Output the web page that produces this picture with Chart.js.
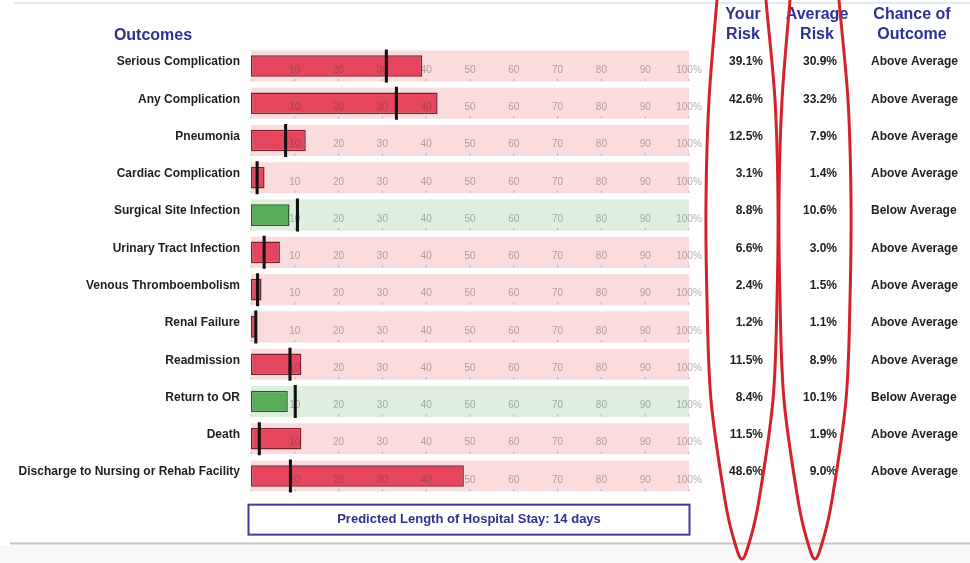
<!DOCTYPE html>
<html>
<head>
<meta charset="utf-8">
<title>Outcomes – Your Risk vs Average Risk</title>
<script src="https://cdn.jsdelivr.net/npm/chart.js@4.4.1/dist/chart.umd.min.js"></script>
<style>
  html, body { margin: 0; padding: 0; background: #ffffff; }
  #wrap { position: relative; width: 970px; height: 563px; }
  canvas { display: block; }
</style>
</head>
<body>
<div id="wrap"><canvas id="chart" width="970" height="563"></canvas></div>
<script>
// ---- data ----
const categories = [
  'Serious Complication',
  'Any Complication',
  'Pneumonia',
  'Cardiac Complication',
  'Surgical Site Infection',
  'Urinary Tract Infection',
  'Venous Thromboembolism',
  'Renal Failure',
  'Readmission',
  'Return to OR',
  'Death',
  'Discharge to Nursing or Rehab Facility'
];
const yourRisk    = [39.1, 42.6, 12.5, 3.1, 8.8, 6.6, 2.4, 1.2, 11.5, 8.4, 11.5, 48.6];
const averageRisk = [30.9, 33.2, 7.9, 1.4, 10.6, 3.0, 1.5, 1.1, 8.9, 10.1, 1.9, 9.0];
const chanceOfOutcome = [
  'Above Average', 'Above Average', 'Above Average', 'Above Average',
  'Below Average', 'Above Average', 'Above Average', 'Above Average',
  'Above Average', 'Below Average', 'Above Average', 'Above Average'
];
const scaleTicks = [0, 10, 20, 30, 40, 50, 60, 70, 80, 90, 100];
const scaleTickLabels = ['', '10', '20', '30', '40', '50', '60', '70', '80', '90', '100%'];
const lengthOfStayDays = 14;

// ---- styling ----
const FONT = '"Liberation Sans", Arial, Helvetica, sans-serif';
const NAVY = '#2e3192';
const isBelow = (i) => chanceOfOutcome[i] === 'Below Average';
const bandColors = categories.map((_, i) => isBelow(i) ? '#def0dd' : '#fadcdd');
const barFill    = categories.map((_, i) => isBelow(i) ? '#58ae58' : '#e5465e');
const barBorder  = categories.map((_, i) => isBelow(i) ? '#2d5a2d' : '#7c1f2c');
const markerHalfWidth = 0.35; // in percentage units, gives a ~3px tick

// column anchors for the table on the right
const COL_YOUR_RIGHT = 763;
const COL_AVG_RIGHT = 837;
const COL_CHANCE_LEFT = 871;
const YOUR_CENTER = 742;
const AVG_CENTER = 815;

// hand-drawn highlight loop (offsets from column centre)
const loopShape = [
  [0, -110], [21, -50], [24, 0], [33, 100], [36, 200], [35, 300], [31, 400],
  [17, 500], [8, 540], [0, 559], [-8, 540], [-17, 500], [-31, 400],
  [-35, 300], [-36, 200], [-33, 100], [-25, 0], [-21, -50]
];

function drawLoop(ctx, cx) {
  const p = loopShape.map(([dx, y]) => [cx + dx, y]);
  const n = p.length;
  ctx.beginPath();
  ctx.moveTo(p[0][0], p[0][1]);
  for (let i = 0; i < n; i++) {
    const p0 = p[(i - 1 + n) % n], p1 = p[i], p2 = p[(i + 1) % n], p3 = p[(i + 2) % n];
    const c1x = p1[0] + (p2[0] - p0[0]) / 6, c1y = p1[1] + (p2[1] - p0[1]) / 6;
    const c2x = p2[0] - (p3[0] - p1[0]) / 6, c2y = p2[1] - (p3[1] - p1[1]) / 6;
    ctx.bezierCurveTo(c1x, c1y, c2x, c2y, p2[0], p2[1]);
  }
  ctx.closePath();
  ctx.strokeStyle = '#d3222b';
  ctx.lineWidth = 3;
  ctx.stroke();
}

const pagePlugin = {
  id: 'pageDecor',
  beforeDraw(chart) {
    const ctx = chart.ctx;
    ctx.save();
    ctx.fillStyle = '#ffffff';
    ctx.fillRect(0, 0, chart.width, chart.height);
    // faint page rule at the top
    ctx.strokeStyle = '#e3e9f4';
    ctx.lineWidth = 2;
    ctx.beginPath(); ctx.moveTo(14, 3); ctx.lineTo(chart.width, 3); ctx.stroke();
    // footer rule and strip
    ctx.fillStyle = '#f8f8f8';
    ctx.fillRect(0, 545, chart.width, chart.height - 545);
    ctx.strokeStyle = '#c6c6c6';
    ctx.beginPath(); ctx.moveTo(10, 543.5); ctx.lineTo(chart.width, 543.5); ctx.stroke();
    ctx.restore();
  },
  afterDatasetDraw(chart, args) {
    // percentage scale repeated inside every row, over the risk bar
    if (args.index !== 1) return;
    const ctx = chart.ctx;
    const xs = chart.scales.x, ys = chart.scales.y;
    ctx.save();
    ctx.font = '10px ' + FONT;
    ctx.textAlign = 'center';
    ctx.textBaseline = 'middle';
    categories.forEach((_, i) => {
      const yc = ys.getPixelForValue(i);
      scaleTicks.forEach((v, k) => {
        const x = xs.getPixelForValue(v);
        ctx.fillStyle = 'rgba(70,70,70,0.42)';
        if (scaleTickLabels[k]) ctx.fillText(scaleTickLabels[k], x, yc + 4);
        ctx.fillStyle = 'rgba(70,70,70,0.35)';
        ctx.fillRect(x - 0.5, yc + 13, 1, 2);
      });
    });
    ctx.restore();
  },
  afterDraw(chart) {
    const ctx = chart.ctx;
    const xs = chart.scales.x, ys = chart.scales.y;
    ctx.save();
    // headers
    ctx.fillStyle = NAVY;
    ctx.font = 'bold 16px ' + FONT;
    ctx.textAlign = 'center';
    ctx.textBaseline = 'middle';
    ctx.fillText('Outcomes', 153, 36);
    ctx.fillText('Your', 743, 15);
    ctx.fillText('Risk', 743, 35);
    ctx.fillText('Average', 817, 15);
    ctx.fillText('Risk', 817, 35);
    ctx.fillText('Chance of', 912, 15);
    ctx.fillText('Outcome', 912, 35);

    // table values
    ctx.fillStyle = '#222222';
    ctx.font = 'bold 12px ' + FONT;
    categories.forEach((_, i) => {
      const y = ys.getPixelForValue(i) - 4;
      ctx.textAlign = 'right';
      ctx.fillText(yourRisk[i].toFixed(1) + '%', COL_YOUR_RIGHT, y);
      ctx.fillText(averageRisk[i].toFixed(1) + '%', COL_AVG_RIGHT, y);
      ctx.textAlign = 'left';
      ctx.fillText(chanceOfOutcome[i], COL_CHANCE_LEFT, y);
    });

    // length of stay box
    const bx0 = xs.left - 2.5, bx1 = xs.right + 0.5;
    const by0 = ys.bottom + 10, by1 = by0 + 30;
    ctx.strokeStyle = '#3b3e90';
    ctx.lineWidth = 2;
    ctx.strokeRect(bx0, by0, bx1 - bx0, by1 - by0);
    ctx.fillStyle = NAVY;
    ctx.font = 'bold 13px ' + FONT;
    ctx.textAlign = 'center';
    ctx.fillText('Predicted Length of Hospital Stay: ' + lengthOfStayDays + ' days', (bx0 + bx1) / 2, (by0 + by1) / 2);

    // highlight loops round the two risk columns
    drawLoop(ctx, YOUR_CENTER);
    drawLoop(ctx, AVG_CENTER);
    ctx.restore();
  }
};

const ctx = document.getElementById('chart').getContext('2d');
new Chart(ctx, {
  type: 'bar',
  data: {
    labels: categories,
    datasets: [
      {
        label: 'Scale',
        data: categories.map(() => 100),
        backgroundColor: bandColors,
        borderWidth: 0,
        barPercentage: 0.835,
        categoryPercentage: 1,
        grouped: false,
        order: 3
      },
      {
        label: 'Your Risk',
        data: yourRisk,
        backgroundColor: barFill,
        borderColor: barBorder,
        borderWidth: 1.5,
        borderSkipped: false,
        barPercentage: 0.58,
        categoryPercentage: 1,
        grouped: false,
        order: 2
      },
      {
        label: 'Average Risk',
        data: averageRisk.map(v => [v - markerHalfWidth, v + markerHalfWidth]),
        backgroundColor: '#111111',
        borderWidth: 0,
        barPercentage: 0.885,
        categoryPercentage: 1,
        grouped: false,
        order: 1
      }
    ]
  },
  options: {
    indexAxis: 'y',
    responsive: false,
    animation: false,
    layout: { padding: { left: 0, right: 281, top: 47.35, bottom: 68.35 } },
    plugins: { legend: { display: false }, tooltip: { enabled: false } },
    scales: {
      x: { display: false, min: 0, max: 100 },
      y: {
        grid: { display: false, drawTicks: false },
        border: { display: false },
        afterFit(scale) { scale.width = 251; },
        ticks: {
          padding: 11,
          labelOffset: -4,
          color: '#1e1e1e',
          font: { family: FONT, size: 12, weight: 'bold' }
        }
      }
    }
  },
  plugins: [pagePlugin]
});
</script>
</body>
</html>
